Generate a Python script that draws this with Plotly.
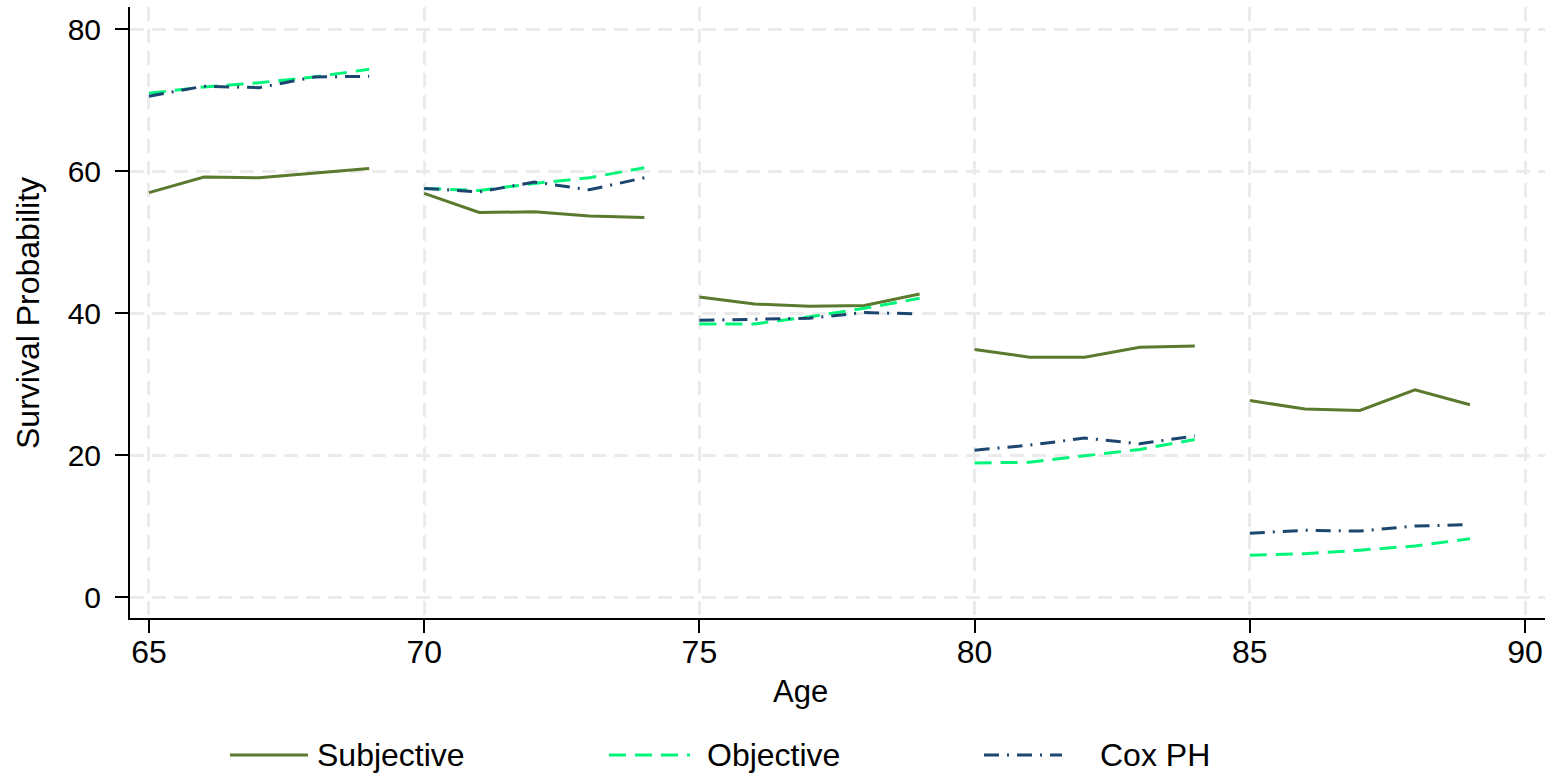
import plotly.graph_objects as go

# Ages, grouped in five-year blocks; None breaks the line between blocks
ages = [65, 66, 67, 68, 69, None,
        70, 71, 72, 73, 74, None,
        75, 76, 77, 78, 79, None,
        80, 81, 82, 83, 84, None,
        85, 86, 87, 88, 89]

subjective = [57.0, 59.2, 59.1, 59.7, 60.4, None,
              56.9, 54.2, 54.3, 53.7, 53.5, None,
              42.3, 41.3, 41.0, 41.1, 42.7, None,
              34.9, 33.8, 33.8, 35.2, 35.4, None,
              27.7, 26.5, 26.3, 29.2, 27.1]

objective = [71.0, 71.9, 72.5, 73.3, 74.4, None,
             57.6, 57.3, 58.3, 59.1, 60.5, None,
             38.5, 38.5, 39.5, 40.7, 42.1, None,
             18.9, 19.0, 19.9, 20.8, 22.2, None,
             5.9, 6.1, 6.6, 7.2, 8.2]

cox_ph = [70.6, 72.0, 71.8, 73.3, 73.4, None,
          57.6, 57.1, 58.5, 57.4, 59.1, None,
          39.0, 39.2, 39.3, 40.1, 39.9, None,
          20.7, 21.4, 22.4, 21.6, 22.7, None,
          9.0, 9.4, 9.3, 10.0, 10.2]

x_ticks = [65, 70, 75, 80, 85, 90]
y_ticks = [0, 20, 40, 60, 80]

series = [
    ("Subjective", subjective, "#5b7a2e", "solid"),
    ("Objective", objective, "#00f57a", "17px,9px"),
    ("Cox PH", cox_ph, "#1c4670", "15px,8px,2px,8px"),
]

FONT = "Liberation Sans, Arial, sans-serif"

fig = go.Figure()
for name, vals, color, dash in series:
    fig.add_trace(go.Scatter(
        x=ages, y=vals, name=name, mode="lines",
        connectgaps=False,
        line=dict(color=color, width=3, dash=dash),
        showlegend=False,
    ))

axis_common = dict(
    showline=True, linecolor="black", linewidth=2,
    ticks="outside", ticklen=13, tickwidth=2, tickcolor="black",
    showgrid=True, gridcolor="#ebebeb", gridwidth=3, griddash="14px,8px",
    zeroline=False,
)

fig.update_xaxes(range=[64.655, 90.363], tickvals=x_ticks,
                 ticklabelstandoff=-8,
                 tickfont=dict(family=FONT, size=32, color="black"),
                 **axis_common)
fig.update_yaxes(range=[-2.96, 83.17], tickvals=y_ticks,
                 ticklabelstandoff=8,
                 tickfont=dict(family=FONT, size=30, color="black"),
                 **axis_common)

# Axis titles
fig.add_annotation(text="Age", xref="paper", yref="paper",
                   x=(800 - 130) / 1415, y=-(691 - 618) / 611,
                   xanchor="center", yanchor="middle", showarrow=False,
                   font=dict(family=FONT, size=31, color="black"))
fig.add_annotation(text="Survival Probability", xref="paper", yref="paper",
                   x=-(130 - 28) / 1415, y=(618 - 313) / 611, textangle=-90,
                   xanchor="center", yanchor="middle", showarrow=False,
                   font=dict(family=FONT, size=32, color="black"))

# Legend row below the plot
legend_y = -(755 - 618) / 611
legend_items = [(230, 308, 315), (609, 690, 705), (984, 1062, 1098)]
for (x0, x1, xt), (name, _, color, dash) in zip(legend_items, series):
    fig.add_shape(type="line", xref="paper", yref="paper",
                  x0=(x0 - 130) / 1415, x1=(x1 - 130) / 1415,
                  y0=legend_y, y1=legend_y,
                  line=dict(color=color, width=3, dash=dash))
    fig.add_annotation(text=name, xref="paper", yref="paper",
                       x=(xt - 130) / 1415, y=legend_y,
                       xanchor="left", yanchor="middle", showarrow=False,
                       font=dict(family=FONT, size=32, color="black"))

fig.update_layout(
    width=1545, height=775,
    margin=dict(l=130, r=0, t=7, b=157),
    plot_bgcolor="white", paper_bgcolor="white",
    showlegend=False,
)

fig.write_html("out.html")
